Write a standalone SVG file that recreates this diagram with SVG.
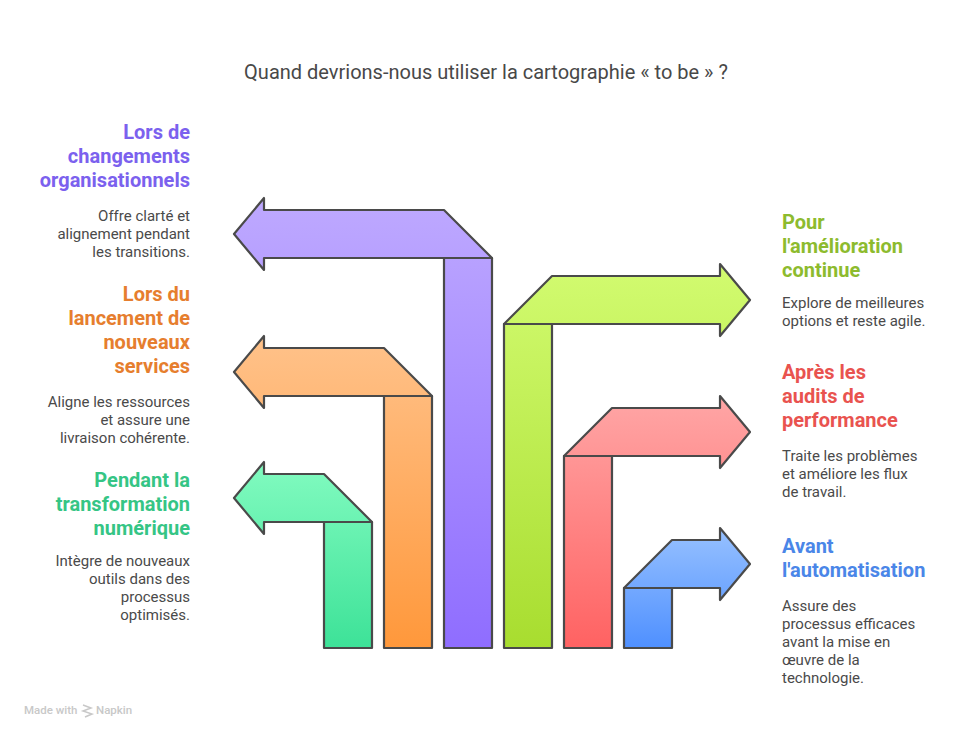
<svg xmlns="http://www.w3.org/2000/svg" width="972" height="738" viewBox="0 0 972 738">
<style>
text{font-family:Roboto,"Liberation Sans",sans-serif}
.t{font-size:20px;fill:#484848}
.h{font-size:20px;font-weight:700}
.d{font-size:15px;fill:#4a4a4a}
.e{text-anchor:end}
.s{stroke:#4a4a4a;stroke-width:2.2;stroke-linejoin:round}
.w{font-size:11.5px;fill:#c8c8c8;font-weight:500}
</style>
<defs>
<linearGradient id="gp" gradientUnits="userSpaceOnUse" x1="0" y1="198" x2="0" y2="648"><stop offset="0" stop-color="#bea9ff"/><stop offset="1" stop-color="#8f6dff"/></linearGradient>
<linearGradient id="go" gradientUnits="userSpaceOnUse" x1="0" y1="336" x2="0" y2="648"><stop offset="0" stop-color="#ffc28a"/><stop offset="1" stop-color="#ff983b"/></linearGradient>
<linearGradient id="gg" gradientUnits="userSpaceOnUse" x1="0" y1="462" x2="0" y2="648"><stop offset="0" stop-color="#82fbc0"/><stop offset="1" stop-color="#3de298"/></linearGradient>
<linearGradient id="gl" gradientUnits="userSpaceOnUse" x1="0" y1="264" x2="0" y2="648"><stop offset="0" stop-color="#d2fb70"/><stop offset="1" stop-color="#a8dd2f"/></linearGradient>
<linearGradient id="gr" gradientUnits="userSpaceOnUse" x1="0" y1="396" x2="0" y2="648"><stop offset="0" stop-color="#ffa6a6"/><stop offset="1" stop-color="#ff6262"/></linearGradient>
<linearGradient id="gb" gradientUnits="userSpaceOnUse" x1="0" y1="528" x2="0" y2="648"><stop offset="0" stop-color="#97c1ff"/><stop offset="1" stop-color="#4f90ff"/></linearGradient>
</defs>
<text class="t" x="486" y="79" text-anchor="middle">Quand devrions-nous utiliser la cartographie « to be » ?</text>
<g id="connectors"></g>
<g id="node-purple">
<path class="s" fill="url(#gp)" d="M444 258H492V648H444Z"/>
<path class="s" fill="url(#gp)" d="M234 234L264 198V210H444L492 258H264V270Z"/>
<text class="h e" fill="#7b61ee" x="190" y="139">Lors de</text>
<text class="h e" fill="#7b61ee" x="190" y="163">changements</text>
<text class="h e" fill="#7b61ee" x="190" y="187">organisationnels</text>
<text class="d e" x="190" y="221">Offre clarté et</text>
<text class="d e" x="190" y="239">alignement pendant</text>
<text class="d e" x="190" y="257">les transitions.</text>
</g>
<g id="node-orange">
<path class="s" fill="url(#go)" d="M384 396H432V648H384Z"/>
<path class="s" fill="url(#go)" d="M234 372L264 336V348H384L432 396H264V408Z"/>
<text class="h e" fill="#e67e2e" x="190" y="301">Lors du</text>
<text class="h e" fill="#e67e2e" x="190" y="325">lancement de</text>
<text class="h e" fill="#e67e2e" x="190" y="349">nouveaux</text>
<text class="h e" fill="#e67e2e" x="190" y="373">services</text>
<text class="d e" x="190" y="407">Aligne les ressources</text>
<text class="d e" x="190" y="425">et assure une</text>
<text class="d e" x="190" y="443">livraison cohérente.</text>
</g>
<g id="node-green">
<path class="s" fill="url(#gg)" d="M324 522H372V648H324Z"/>
<path class="s" fill="url(#gg)" d="M234 498L264 462V474H324L372 522H264V534Z"/>
<text class="h e" fill="#35c585" x="190" y="487">Pendant la</text>
<text class="h e" fill="#35c585" x="190" y="511">transformation</text>
<text class="h e" fill="#35c585" x="190" y="535">numérique</text>
<text class="d e" x="190" y="566">Intègre de nouveaux</text>
<text class="d e" x="190" y="584">outils dans des</text>
<text class="d e" x="190" y="602">processus</text>
<text class="d e" x="190" y="620">optimisés.</text>
</g>
<g id="node-lime">
<path class="s" fill="url(#gl)" d="M504 324H552V648H504Z"/>
<path class="s" fill="url(#gl)" d="M504 324L552 276H720V264L750 300L720 336V324Z"/>
<text class="h" fill="#8dbb2e" x="782" y="229">Pour</text>
<text class="h" fill="#8dbb2e" x="782" y="253">l'amélioration</text>
<text class="h" fill="#8dbb2e" x="782" y="277">continue</text>
<text class="d" x="782" y="308">Explore de meilleures</text>
<text class="d" x="782" y="326">options et reste agile.</text>
</g>
<g id="node-red">
<path class="s" fill="url(#gr)" d="M564 456H612V648H564Z"/>
<path class="s" fill="url(#gr)" d="M564 456L612 408H720V396L750 432L720 468V456Z"/>
<text class="h" fill="#e9534f" x="782" y="379">Après les</text>
<text class="h" fill="#e9534f" x="782" y="403">audits de</text>
<text class="h" fill="#e9534f" x="782" y="427">performance</text>
<text class="d" x="782" y="461">Traite les problèmes</text>
<text class="d" x="782" y="479">et améliore les flux</text>
<text class="d" x="782" y="497">de travail.</text>
</g>
<g id="node-blue">
<path class="s" fill="url(#gb)" d="M624 588H672V648H624Z"/>
<path class="s" fill="url(#gb)" d="M624 588L672 540H720V528L750 564L720 600V588Z"/>
<text class="h" fill="#4a86e8" x="782" y="553">Avant</text>
<text class="h" fill="#4a86e8" x="782" y="577">l'automatisation</text>
<text class="d" x="782" y="611">Assure des</text>
<text class="d" x="782" y="629">processus efficaces</text>
<text class="d" x="782" y="647">avant la mise en</text>
<text class="d" x="782" y="665">œuvre de la</text>
<text class="d" x="782" y="683">technologie.</text>
</g>
<g id="watermark">
<text class="w" x="24" y="714">Made with</text>
<path d="M83 705L91 708L83 711L92 714L85 717" fill="none" stroke="#c8c8c8" stroke-width="1.5"/>
<text class="w" x="96" y="714">Napkin</text>
</g>
</svg>
